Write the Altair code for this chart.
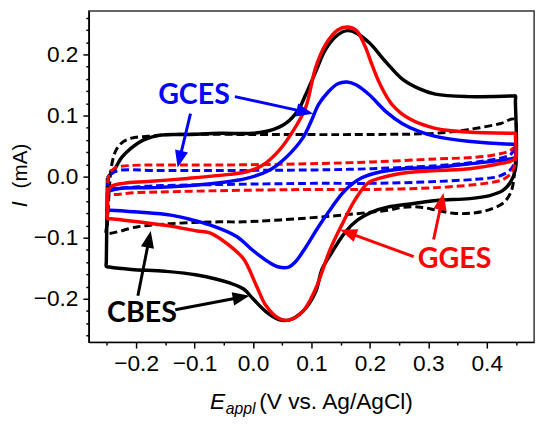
import math
import altair as alt
import pandas as pd

# ---------------- data ----------------
# CBES, with redox probe (black solid)
cbes_x = [-0.249, -0.235, -0.225, -0.208, -0.185, -0.158, -0.112, -0.057, 0.0, 0.034, 0.056, 0.078,
          0.090, 0.107, 0.124, 0.145, 0.162, 0.177, 0.199, 0.228, 0.255, 0.284, 0.312, 0.368, 0.444, 0.449,
          0.449, 0.449, 0.440, 0.427, 0.405, 0.371, 0.314, 0.275, 0.230, 0.203, 0.179, 0.157, 0.135, 0.118, 0.107,
          0.085, 0.061, 0.044, 0.022, 0.0, -0.016, -0.040, -0.096, -0.151, -0.208, -0.246, -0.251, -0.251]
cbes_y = [-0.002, 0.015, 0.031, 0.047, 0.061, 0.068, 0.069, 0.071, 0.071, 0.077, 0.087, 0.110,
          0.134, 0.171, 0.208, 0.232, 0.239, 0.235, 0.219, 0.187, 0.160, 0.144, 0.135, 0.131, 0.132, 0.132,
          0.124, 0.012, -0.010, -0.023, -0.031, -0.036, -0.039, -0.044, -0.050, -0.058, -0.071, -0.092, -0.124, -0.152, -0.189,
          -0.221, -0.235, -0.234, -0.221, -0.200, -0.184, -0.174, -0.161, -0.155, -0.152, -0.148, -0.147, -0.139]

# CBES blank (black dashed)
cbesb_x = [-0.249, -0.246, -0.242, -0.235, -0.225, -0.208, -0.180, -0.141, 0.0, 0.199, 0.312, 0.368,
           0.424, 0.447, 0.449, 0.447, 0.441, 0.427, 0.398, 0.371, 0.343, 0.314, 0.287, 0.258, 0.230,
           0.174, 0.090, -0.016, -0.057, -0.141, -0.197, -0.251]
cbesb_y = [-0.079, -0.023, 0.018, 0.042, 0.055, 0.063, 0.066, 0.069, 0.069, 0.069, 0.071, 0.077,
           0.087, 0.094, 0.042, 0.002, -0.026, -0.044, -0.056, -0.060, -0.060, -0.055, -0.050, -0.050, -0.055,
           -0.061, -0.068, -0.074, -0.074, -0.077, -0.082, -0.092]

# GGES, with redox probe (red solid)
gges_x = [-0.249, -0.242, -0.222, -0.180, -0.112, -0.057, -0.011, 0.017, 0.044, 0.068, 0.090, 0.107,
          0.124, 0.145, 0.161, 0.177, 0.191, 0.204, 0.218, 0.238, 0.267, 0.312, 0.368, 0.444, 0.449,
          0.449, 0.449, 0.440, 0.427, 0.371, 0.314, 0.258, 0.219, 0.196, 0.174, 0.152, 0.132, 0.107, 0.085, 0.061,
          0.044, 0.022, 0.006, -0.016, -0.040, -0.074, -0.096, -0.141, -0.197, -0.244, -0.249, -0.249]
gges_y = [-0.027, -0.016, -0.011, -0.008, -0.003, 0.002, 0.008, 0.019, 0.042, 0.074, 0.113, 0.178,
          0.216, 0.240, 0.245, 0.239, 0.215, 0.182, 0.150, 0.118, 0.095, 0.079, 0.073, 0.071, 0.071,
          0.064, 0.031, 0.025, 0.022, 0.013, 0.010, 0.006, -0.002, -0.011, -0.039, -0.079, -0.119, -0.184, -0.221, -0.235,
          -0.232, -0.211, -0.179, -0.135, -0.113, -0.092, -0.089, -0.081, -0.074, -0.069, -0.069, -0.062]

# GGES blank (red dashed)
ggesb_x = [-0.249, -0.245, -0.235, -0.213, -0.168, -0.057, 0.090, 0.203, 0.314, 0.368, 0.410, 0.439, 0.449,
           0.449, 0.441, 0.427, 0.398, 0.314, 0.203, 0.107, -0.057, -0.197, -0.247]
ggesb_y = [-0.010, 0.006, 0.015, 0.018, 0.019, 0.019, 0.021, 0.024, 0.029, 0.031, 0.035, 0.042, 0.048,
           0.023, 0.005, -0.005, -0.011, -0.018, -0.021, -0.021, -0.023, -0.026, -0.027]

# GCES, with redox probe (blue solid)
gces_x = [-0.249, -0.244, -0.225, -0.168, -0.112, -0.057, -0.011, 0.027, 0.056, 0.085, 0.101, 0.112,
          0.129, 0.145, 0.161, 0.177, 0.199, 0.228, 0.255, 0.284, 0.312, 0.368, 0.444, 0.449,
          0.449, 0.449, 0.440, 0.427, 0.371, 0.314, 0.258, 0.219, 0.186, 0.157, 0.135, 0.112, 0.090, 0.073, 0.061,
          0.044, 0.027, 0.0, -0.028, -0.074, -0.112, -0.141, -0.197, -0.244, -0.249, -0.249]
gces_y = [-0.026, -0.023, -0.019, -0.018, -0.015, -0.010, -0.003, 0.010, 0.031, 0.063, 0.094, 0.118,
          0.139, 0.152, 0.155, 0.150, 0.134, 0.106, 0.087, 0.074, 0.066, 0.058, 0.053, 0.053,
          0.047, 0.032, 0.029, 0.027, 0.021, 0.015, 0.013, 0.008, -0.002, -0.023, -0.050, -0.082, -0.116, -0.139, -0.148,
          -0.148, -0.140, -0.121, -0.098, -0.079, -0.069, -0.063, -0.058, -0.055, -0.055, -0.049]

# GCES blank (blue dashed)
gcesb_x = [-0.249, -0.244, -0.230, -0.168, -0.057, 0.107, 0.203, 0.314, 0.398, 0.439, 0.449,
           0.449, 0.439, 0.419, 0.398, 0.314, 0.203, 0.107, -0.057, -0.168, -0.247]
gcesb_y = [-0.015, 0.003, 0.010, 0.010, 0.010, 0.011, 0.013, 0.018, 0.026, 0.035, 0.045,
           0.026, 0.010, 0.000, -0.003, -0.008, -0.011, -0.011, -0.013, -0.015, -0.018]

# annotation labels
label_text = ["GCES", "GGES", "CBES"]
label_x = [-0.101, 0.345, -0.190]
label_y = [0.134, -0.135, -0.223]
label_color = ["#0000ff", "#ff0000", "#000000"]

# arrows: tail -> tip
arrow_tail_x = [-0.031, -0.107, 0.275, 0.309, -0.197, -0.133]
arrow_tail_y = [0.131, 0.103, -0.131, -0.103, -0.195, -0.218]
arrow_tip_x = [0.103, -0.129, 0.149, 0.326, -0.175, -0.006]
arrow_tip_y = [0.103, 0.015, -0.087, -0.027, -0.089, -0.195]
arrow_color = ["#0000ff", "#0000ff", "#ff0000", "#ff0000", "#000000", "#000000"]

x_ticks = [-0.25, -0.2, -0.15, -0.1, -0.05, 0.0, 0.05, 0.1, 0.15, 0.2, 0.25, 0.3, 0.35, 0.4, 0.45]
y_ticks = [-0.26, -0.24, -0.22, -0.2, -0.18, -0.16, -0.14, -0.12, -0.1, -0.08, -0.06, -0.04, -0.02,
           0.0, 0.02, 0.04, 0.06, 0.08, 0.1, 0.12, 0.14, 0.16, 0.18, 0.2, 0.22, 0.24, 0.26]

X_DOMAIN = [-0.281, 0.481]
Y_DOMAIN = [-0.271, 0.271]
W, H = 452, 336

# ---------------- chart ----------------
is_major = "abs(datum.value*10 - round(datum.value*10)) < 0.001"
common_axis = dict(
    labelExpr=f"{is_major} ? format(datum.value, '.1f') : ''",
    tickSize={"condition": {"test": is_major, "value": 6}, "value": 3},
    tickColor="black", tickWidth=1.5, domainColor="black", domainWidth=1.5,
    labelFont="Liberation Sans", labelFontSize=23, labelColor="black",
    grid=False, title=None,
)
x_axis = alt.Axis(values=x_ticks, labelPadding=5, **common_axis)
y_axis = alt.Axis(values=y_ticks, labelPadding=5, **common_axis)
xs = alt.Scale(domain=X_DOMAIN, nice=False, zero=False)
ys = alt.Scale(domain=Y_DOMAIN, nice=False, zero=False)


def loop(xv, yv):
    xv = list(xv) + [xv[0]]
    yv = list(yv) + [yv[0]]
    return pd.DataFrame({"E": xv, "I": yv, "k": list(range(len(xv)))})


def curve(xv, yv, color, dashed):
    kw = dict(color=color, strokeWidth=3 if dashed else 3.5, interpolate="catmull-rom",
              strokeJoin="round", clip=True)
    if dashed:
        kw["strokeDash"] = [8, 4]
    return alt.Chart(loop(xv, yv)).mark_line(**kw).encode(
        x=alt.X("E:Q", scale=xs, axis=x_axis),
        y=alt.Y("I:Q", scale=ys, axis=y_axis),
        order="k:Q",
    )


layers = [
    curve(cbesb_x, cbesb_y, "#000000", True),
    curve(cbes_x, cbes_y, "#000000", False),
    curve(gcesb_x, gcesb_y, "#0000ff", True),
    curve(ggesb_x, ggesb_y, "#ff0000", True),
    curve(gces_x, gces_y, "#0000ff", False),
    curve(gges_x, gges_y, "#ff0000", False),
]

# arrows
sx = W / (X_DOMAIN[1] - X_DOMAIN[0])
sy = H / (Y_DOMAIN[1] - Y_DOMAIN[0])
rows = []
for tx, ty, hx, hy, c in zip(arrow_tail_x, arrow_tail_y, arrow_tip_x, arrow_tip_y, arrow_color):
    dx = (hx - tx) * sx
    dy = -(hy - ty) * sy
    ln = math.hypot(dx, dy)
    ux, uy = dx / ln, dy / ln
    ang = math.degrees(math.atan2(dx, -dy)) % 360
    ex = hx - 10 * ux / sx
    ey = hy + 10 * uy / sy
    rows.append({"tx": tx, "ty": ty, "ex": ex, "ey": ey, "hx": hx, "hy": hy, "ang": ang, "c": c})
arrows = pd.DataFrame(rows)

shafts = alt.Chart(arrows).mark_rule(strokeWidth=3).encode(
    x=alt.X("tx:Q", scale=xs, axis=x_axis), y=alt.Y("ty:Q", scale=ys, axis=y_axis),
    x2="ex:Q", y2="ey:Q", color=alt.Color("c:N", scale=None),
)
heads = alt.Chart(arrows).mark_point(
    shape="M0,0L1.1,2.8L-1.1,2.8Z", filled=True, size=150, opacity=1, strokeWidth=0
).encode(
    x=alt.X("hx:Q", scale=xs, axis=x_axis), y=alt.Y("hy:Q", scale=ys, axis=y_axis),
    angle=alt.Angle("ang:Q", scale=None), color=alt.Color("c:N", scale=None),
)

labels = alt.Chart(pd.DataFrame({"t": label_text, "x": label_x, "y": label_y, "c": label_color})).mark_text(
    font="Lato", fontSize=29, fontWeight="bold", baseline="middle", align="center"
).encode(
    x=alt.X("x:Q", scale=xs, axis=x_axis), y=alt.Y("y:Q", scale=ys, axis=y_axis),
    text="t:N", color=alt.Color("c:N", scale=None),
)

dummy = pd.DataFrame({"a": [0]})


def title_text(txt, px, py, size, style="normal", angle=0):
    return alt.Chart(dummy).mark_text(
        text=txt, font="Liberation Sans", fontSize=size, fontStyle=style, align="left",
        baseline="alphabetic", angle=angle, color="black",
    ).encode(x=alt.value(px), y=alt.value(py))


titles = [
    title_text("E", 123, 404, 23, "italic"),
    title_text("appl", 139, 409, 16, "italic"),
    title_text("(V vs. Ag/AgCl)", 173, 404, 23),
    title_text("I", -63, 199, 22, "italic", 270),
    title_text("(mA)", -63, 180, 21, "normal", 270),
]

chart = alt.layer(*layers, shafts, heads, labels, *titles).properties(
    width=W, height=H,
    autosize=alt.AutoSizeParams(type="none"),
    padding={"left": 82, "top": 0, "right": 8, "bottom": 84},
).configure_view(stroke="#333333", strokeWidth=1.5)

chart.save("out.html", embed_options={"renderer": "svg", "actions": False})
